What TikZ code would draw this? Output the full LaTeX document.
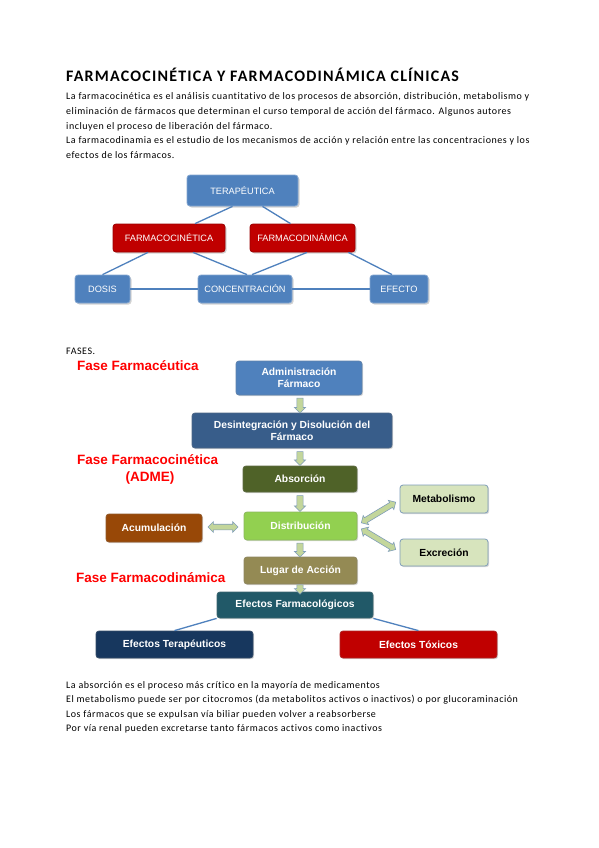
\documentclass[tikz,border=0pt]{standalone}
\usepackage{fontspec}
\setmainfont{Carlito}
\newfontfamily\arial{Liberation Sans}
\newfontfamily\bodyfont[LetterSpace=5.3,Ligatures=NoCommon]{Carlito}
\newfontfamily\titlefont[LetterSpace=7.5,Ligatures=NoCommon]{Carlito}
\usetikzlibrary{shapes.arrows,shadows,calc}
\definecolor{topblue}{HTML}{4F81BD}
\definecolor{topred}{HTML}{C00000}
\definecolor{admblue}{HTML}{4F81BD}
\definecolor{desblue}{HTML}{385D8A}
\definecolor{absgreen}{HTML}{4F6228}
\definecolor{distgreen}{HTML}{92D050}
\definecolor{acubrown}{HTML}{984807}
\definecolor{palegreen}{HTML}{D7E4BD}
\definecolor{lugkhaki}{HTML}{948A54}
\definecolor{efteal}{HTML}{215968}
\definecolor{ternavy}{HTML}{17375E}
\definecolor{toxred}{HTML}{C00000}
\definecolor{arrowfill}{HTML}{C3D69B}
\definecolor{arrowline}{HTML}{7F9DB9}
\definecolor{linkblue}{HTML}{4F81BD}
\definecolor{faseRed}{HTML}{FF0000}
\begin{document}
\begin{tikzpicture}[x=1pt,y=-1pt,
  bodytext/.style={anchor=base west,inner sep=0pt,font=\bodyfont\fontsize{10}{12}\selectfont},
  topbox/.style={rounded corners=3pt,fill=topblue,draw=topblue!70!white,line width=0.8pt,
    text=white,font=\arial\fontsize{9.2}{11}\selectfont,inner sep=1pt,
    drop shadow={shadow xshift=1.5pt,shadow yshift=-1.5pt,opacity=0.35}},
  topredbox/.style={topbox,fill=topred,draw=topred!80!black},
  flowbox/.style={rounded corners=3pt,fill=#1,draw=#1!70!gray,line width=0.8pt,
    text=white,font=\arial\bfseries\fontsize{10.3}{12}\selectfont,align=center,inner sep=1pt,
    drop shadow={shadow xshift=1.2pt,shadow yshift=-1.2pt,opacity=0.3}},
  palebox/.style={flowbox=palegreen,draw=arrowline,text=black},
  fasetext/.style={anchor=base west,inner sep=0pt,text=faseRed,font=\arial\bfseries\fontsize{13.5}{15}\selectfont},
  downarrow/.style={single arrow,draw=arrowline,fill=arrowfill,line width=0.6pt,inner sep=2.8pt,
    single arrow head extend=2.5pt,single arrow head indent=0pt,minimum height=#1,rotate=-90},
  twoarrow/.style={double arrow,draw=arrowline,fill=arrowfill,line width=0.6pt,inner sep=2.5pt,
    double arrow head extend=2.5pt,double arrow head indent=0pt,minimum height=#1},
  link/.style={draw=linkblue,line width=1.3pt}
]
\useasboundingbox[fill=white] (0,0) rectangle (599,848);

% ---------- heading and text ----------
\node[anchor=base west,inner sep=0pt,font=\titlefont\bfseries\fontsize{16}{19}\selectfont] (title) at (66,81.7)
  {FARMACOCINÉTICA Y FARMACODINÁMICA CLÍNICAS};
\node[bodytext] (p1) at (66,99.5) {La farmacocinética es el análisis cuantitativo de los procesos de absorción, distribución, metabolismo y};
\node[bodytext] (p2) at (66,114.3) {eliminación de fármacos que determinan el curso temporal de acción del fármaco. Algunos autores};
\node[bodytext] (p3) at (66,129) {incluyen el proceso de liberación del fármaco.};
\node[bodytext] (p4) at (66,143.8) {La farmacodinamia es el estudio de los mecanismos de acción y relación entre las concentraciones y los};
\node[bodytext] (p5) at (66,158.5) {efectos de los fármacos.};

% ---------- top diagram ----------
\node[topbox,minimum width=111pt,minimum height=31pt] (ter) at (242.5,190.5) {TERAPÉUTICA};
\node[topredbox,minimum width=112pt,minimum height=28pt] (fcin) at (169,238) {FARMACOCINÉTICA};
\node[topredbox,minimum width=105pt,minimum height=28pt] (fdin) at (302.5,238) {FARMACODINÁMICA};
\node[topbox,minimum width=55pt,minimum height=28pt] (dosis) at (102.5,289) {DOSIS};
\node[topbox,minimum width=94pt,minimum height=28pt] (conc) at (245,289) {CONCENTRACIÓN};
\node[topbox,minimum width=58pt,minimum height=28pt] (efecto) at (399,289) {EFECTO};

\draw[link] ([xshift=-10pt]ter.south) -- ([xshift=26pt]fcin.north);
\draw[link] ([xshift=20pt]ter.south) -- ([xshift=-12pt]fdin.north);
\draw[link] ([xshift=-21pt]fcin.south) -- (dosis.north);
\draw[link] ([xshift=24pt]fcin.south) -- ([xshift=2pt]conc.north);
\draw[link] ([xshift=4.5pt]fdin.south) -- ([xshift=7pt]conc.north);
\draw[link] ([xshift=-7pt]fdin.south east) -- ([xshift=-7pt]efecto.north);
\draw[link] (dosis.east) -- (conc.west);
\draw[link] (conc.east) -- (efecto.west);

% ---------- phases ----------
\node[anchor=base west,inner sep=0pt,font=\bodyfont\fontsize{10}{12}\selectfont] (fases) at (66,354) {FASES.};
\node[fasetext] (f1) at (77,370) {Fase Farmacéutica};
\node[fasetext] (f2) at (77,464.3) {Fase Farmacocinética};
\node[anchor=base,inner sep=0pt,text=faseRed,font=\arial\bfseries\fontsize{13.5}{15}\selectfont] (f2b) at (150,481) {(ADME)};
\node[fasetext] (f3) at (76,582.3) {Fase Farmacodinámica};

\node[flowbox=admblue,minimum width=126pt,minimum height=34pt] (adm) at (299,378) {Administración\\Fármaco};
\node[flowbox=desblue,minimum width=200pt,minimum height=35pt] (des) at (292,430.5) {Desintegración y Disolución del\\Fármaco};
\node[flowbox=absgreen,minimum width=114pt,minimum height=26pt] (abs) at (300,479) {Absorción};
\node[flowbox=distgreen,minimum width=113pt,minimum height=28pt] (dist) at (300.5,526) {Distribución};
\node[flowbox=acubrown,minimum width=96pt,minimum height=28pt] (acu) at (154,528) {Acumulación};
\node[palebox,minimum width=88pt,minimum height=28pt] (met) at (444,499) {Metabolismo};
\node[palebox,minimum width=88pt,minimum height=27pt] (exc) at (444,552.5) {Excreción};
\node[flowbox=lugkhaki,minimum width=113pt,minimum height=27pt] (lug) at (300.5,570.5) {Lugar de Acción};
\node[flowbox=efteal,minimum width=156pt,minimum height=26pt] (ef) at (295,605) {Efectos Farmacológicos};
\node[flowbox=ternavy,minimum width=157pt,minimum height=27pt] (eter) at (174.5,644.5) {Efectos Terapéuticos};
\node[flowbox=toxred,minimum width=157pt,minimum height=27pt] (etox) at (418.5,644.5) {Efectos Tóxicos};

\draw[link] (ef.south west) -- (eter.north);
\draw[link] (ef.south east) -- (etox.north);

\node[downarrow=15pt] (a1) at ($(abs.center |- adm.south)!0.5!(abs.center |- des.north)$) {};
\node[downarrow=14pt] (a2) at ($(abs.center |- des.south)!0.5!(abs.north)$) {};
\node[downarrow=16pt] (a3) at ($(abs.south)!0.5!(abs.center |- dist.north)$) {};
\node[downarrow=14pt] (a4) at ($(abs.center |- dist.south)!0.5!(abs.center |- lug.north)$) {};
\node[downarrow=9pt] (a5) at ($(abs.center |- lug.south)!0.5!(abs.center |- ef.north)$) {};
\node[twoarrow=30pt] (d1) at ($(acu.east)!0.5!(dist.west)$) {};
\node[twoarrow=40pt,rotate=31] (d2) at ($(dist.east)!0.5!(met.west)$) {};
\node[twoarrow=40pt,rotate=-31] (d3) at ($(dist.east)!0.5!(exc.west)$) {};

% ---------- notes ----------
\node[bodytext] (n1) at (66,688) {La absorción es el proceso más crítico en la mayoría de medicamentos};
\node[bodytext] (n2) at (66,702.5) {El metabolismo puede ser por citocromos (da metabolitos activos o inactivos) o por glucoraminación};
\node[bodytext] (n3) at (66,717) {Los fármacos que se expulsan vía biliar pueden volver a reabsorberse};
\node[bodytext] (n4) at (66,731.5) {Por vía renal pueden excretarse tanto fármacos activos como inactivos};
\end{tikzpicture}
\end{document}
